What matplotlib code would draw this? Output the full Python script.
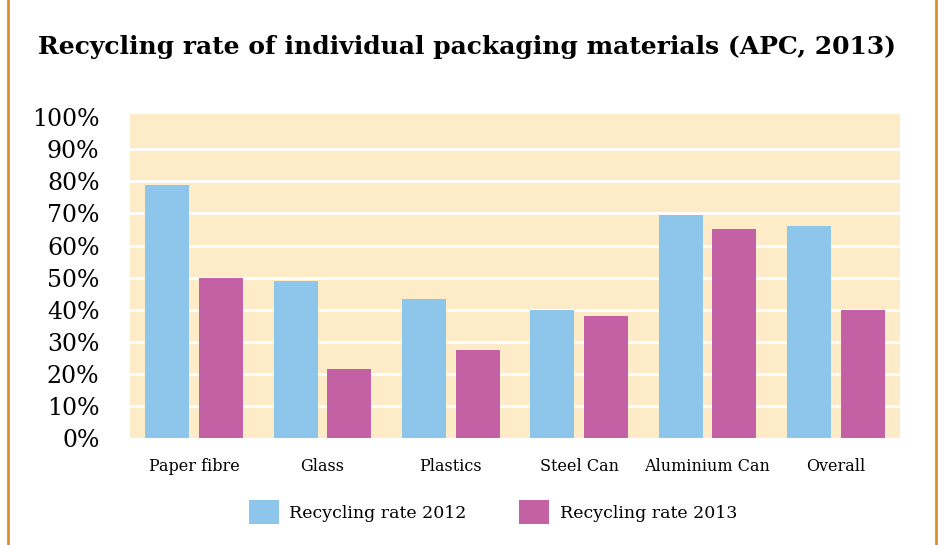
import matplotlib
matplotlib.use("Agg")
import matplotlib.pyplot as plt
import numpy as np
from matplotlib.patches import Rectangle

categories = ["Paper fibre", "Glass", "Plastics", "Steel Can", "Aluminium Can", "Overall"]
rate_2012 = [79, 49, 43.5, 40, 69.5, 66]
rate_2013 = [50, 21.5, 27.5, 38, 65, 40]
y_ticks = list(range(0, 101, 10))

blue = "#8EC5EB"
pink = "#C461A5"
cream = "#FEECC8"
border = "#D98F2B"

plt.rcParams['font.family'] = ['DejaVu Serif']

fig = plt.figure(figsize=(9.44, 5.45), dpi=100, facecolor='white')
ax = fig.add_axes([0.1377, 0.196, 0.8157, 0.595])
ax.set_facecolor(cream)

x = np.arange(len(categories))
w = 0.343
ax.bar(x - 0.21, rate_2012, width=w, color=blue, label="Recycling rate 2012", zorder=3)
ax.bar(x + 0.21, rate_2013, width=w, color=pink, label="Recycling rate 2013", zorder=3)

ax.set_xlim(-0.5, len(categories) - 0.5)
ax.set_ylim(0, 101)
ax.set_yticks(y_ticks)
ax.set_yticklabels([f"{t}%" for t in y_ticks], fontsize=17)
ax.set_xticks(x)
ax.set_xticklabels(categories, fontsize=11.5)
ax.tick_params(axis='both', length=0)
ax.tick_params(axis='y', pad=22)
ax.tick_params(axis='x', pad=14)
# white gridlines inside the cream area only (none on the top edge)
for t in y_ticks[1:-1]:
    ax.axhline(t, color='white', linewidth=2, zorder=1)
for s in ax.spines.values():
    s.set_visible(False)

fig.text(0.495, 0.913, "Recycling rate of individual packaging materials (APC, 2013)",
         ha='center', va='center', fontsize=18, fontweight='bold')

fig.legend(loc='center', bbox_to_anchor=(0.522, 0.06), ncol=2, frameon=False,
           fontsize=12.5, handlelength=1.75, handleheight=1.75, handletextpad=0.6,
           columnspacing=3.0)

fig.patches.append(Rectangle((0.009, -0.01), 0.983, 1.03, transform=fig.transFigure,
                             fill=False, edgecolor=border, linewidth=2))

fig.savefig("out.png", dpi=100, facecolor='white')
